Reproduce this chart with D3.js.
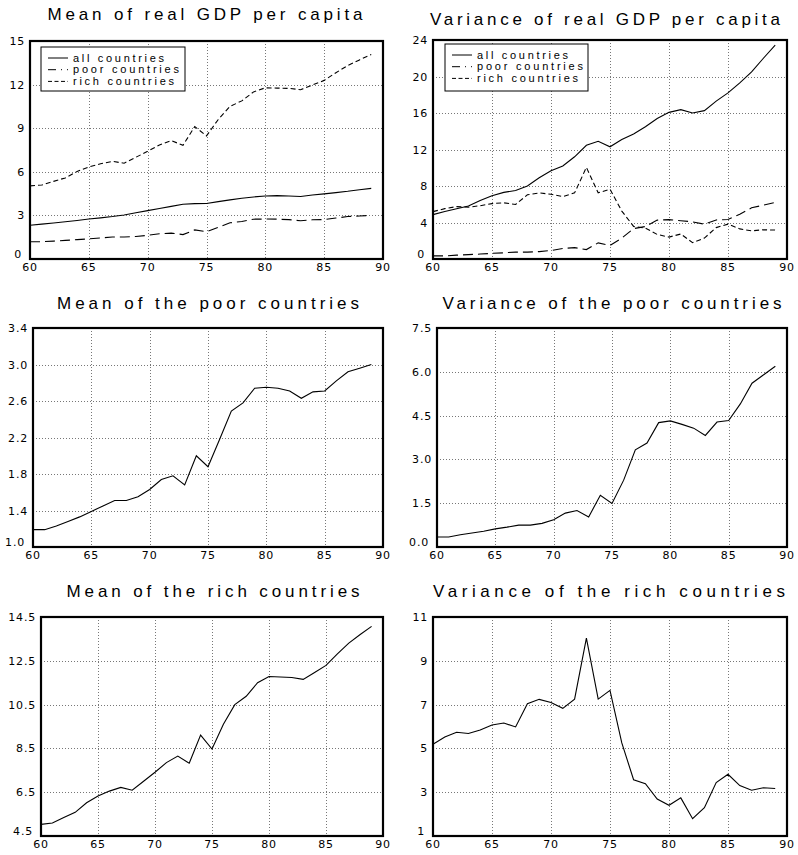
<!DOCTYPE html>
<html>
<head>
<meta charset="utf-8">
<script src="https://cdn.jsdelivr.net/npm/d3@7"></script>
<style>
  html, body { margin: 0; padding: 0; background: #fff; }
  svg { display: block; }
  .title { font-family: "Liberation Sans", Arial, sans-serif; font-size: 17px; fill: #000; }
  .tick-label { font-family: "DejaVu Sans", sans-serif; font-size: 11px; fill: #000; letter-spacing: 0.8px; }
  .legend-text { font-family: "Liberation Sans", Arial, sans-serif; font-size: 11px; fill: #000; }
</style>
</head>
<body>
<svg id="chart" width="798" height="855"></svg>
<script>
// Years 1960-1989, labelled by their last two digits
const years = d3.range(60, 90);

// Cross-country mean of real GDP per capita
const meanAll = [2.32, 2.40, 2.48, 2.56, 2.65, 2.75, 2.83, 2.92, 3.03, 3.18,
                 3.33, 3.47, 3.62, 3.77, 3.81, 3.82, 3.95, 4.07, 4.18, 4.27,
                 4.33, 4.36, 4.33, 4.30, 4.40, 4.48, 4.57, 4.66, 4.77, 4.86];
const meanPoor = [1.19, 1.19, 1.23, 1.28, 1.33, 1.39, 1.45, 1.51, 1.51, 1.55,
                  1.63, 1.74, 1.78, 1.68, 2.00, 1.88, 2.18, 2.49, 2.58, 2.74,
                  2.75, 2.74, 2.71, 2.63, 2.70, 2.71, 2.82, 2.92, 2.96, 3.00];
const meanRich = [5.03, 5.09, 5.34, 5.58, 6.02, 6.33, 6.55, 6.72, 6.59, 7.00,
                  7.41, 7.85, 8.15, 7.82, 9.11, 8.47, 9.60, 10.50, 10.88, 11.50,
                  11.78, 11.76, 11.74, 11.65, 11.97, 12.29, 12.82, 13.31, 13.70, 14.07];

// Cross-country variance of real GDP per capita
const varAll = [4.86, 5.20, 5.50, 5.80, 6.40, 6.94, 7.30, 7.50, 8.00, 8.90,
                9.68, 10.20, 11.20, 12.46, 12.90, 12.30, 13.10, 13.70, 14.50, 15.40,
                16.07, 16.37, 16.00, 16.26, 17.30, 18.20, 19.30, 20.50, 22.00, 23.45];
const varPoor = [0.34, 0.34, 0.42, 0.48, 0.54, 0.62, 0.68, 0.75, 0.75, 0.81,
                 0.93, 1.16, 1.25, 1.03, 1.77, 1.49, 2.29, 3.33, 3.56, 4.26,
                 4.32, 4.20, 4.07, 3.82, 4.28, 4.33, 4.90, 5.61, 5.90, 6.19];
const varRich = [5.19, 5.52, 5.74, 5.68, 5.84, 6.07, 6.16, 5.98, 7.04, 7.24,
                 7.10, 6.83, 7.25, 10.04, 7.25, 7.65, 5.25, 3.57, 3.39, 2.69,
                 2.40, 2.74, 1.79, 2.29, 3.44, 3.82, 3.30, 3.09, 3.20, 3.17];

// Axis tick values
const xTicks = [60, 65, 70, 75, 80, 85, 90];
const yTicksMeanAll = [0, 3, 6, 9, 12, 15];
const yTicksVarAll = [0, 4, 8, 12, 16, 20, 24];
const yTicksMeanPoor = [1.0, 1.4, 1.8, 2.2, 2.6, 3.0, 3.4];
const yTicksVarPoor = [0.0, 1.5, 3.0, 4.5, 6.0, 7.5];
const yTicksMeanRich = [4.5, 6.5, 8.5, 10.5, 12.5, 14.5];
const yTicksVarRich = [1, 3, 5, 7, 9, 11];

// Series labels and line styles
const seriesNames = ["all countries", "poor countries", "rich countries"];
const dashes = { all: null, poor: "10,5", rich: "5,3" };
const legendDashes = [null, "8,5,1,5", "4,2.5"];

const svg = d3.select("#chart");

// box = [left, top, right, bottom] of each plot frame
const panels = [
  { title: "Mean of real GDP per capita", box: [30, 41, 383, 259],
    titleX: 205, titleY: 20, titleW: 315,
    yTicks: yTicksMeanAll, fmt: d3.format("d"),
    series: [[meanAll, dashes.all], [meanPoor, dashes.poor], [meanRich, dashes.rich]],
    legend: [41, 47, 185, 91] },
  { title: "Variance of real GDP per capita", box: [433, 40, 787, 259],
    titleX: 605, titleY: 25, titleW: 350,
    yTicks: yTicksVarAll, fmt: d3.format("d"),
    series: [[varAll, dashes.all], [varPoor, dashes.poor], [varRich, dashes.rich]],
    legend: [445, 44, 588, 91] },
  { title: "Mean of the poor countries", box: [33, 328, 383, 547],
    titleX: 208, titleY: 309, titleW: 302,
    yTicks: yTicksMeanPoor, fmt: d3.format(".1f"),
    series: [[meanPoor, null]] },
  { title: "Variance of the poor countries", box: [437, 328, 787, 547],
    titleX: 612, titleY: 309, titleW: 339,
    yTicks: yTicksVarPoor, fmt: d3.format(".1f"),
    series: [[varPoor, null]] },
  { title: "Mean of the rich countries", box: [41, 617, 383, 836],
    titleX: 213, titleY: 597, titleW: 293,
    yTicks: yTicksMeanRich, fmt: d3.format(".1f"),
    series: [[meanRich, null]] },
  { title: "Variance of the rich countries", box: [433, 617, 787, 836],
    titleX: 609, titleY: 597, titleW: 352,
    yTicks: yTicksVarRich, fmt: d3.format("d"),
    series: [[varRich, null]] }
];

panels.forEach(p => {
  const [x0, y0, x1, y1] = p.box;
  const g = svg.append("g");
  const x = d3.scaleLinear().domain([60, 90]).range([x0, x1]);
  const y = d3.scaleLinear().domain(d3.extent(p.yTicks)).range([y1, y0]);
  const yMin = p.yTicks[0];

  // dotted grid at interior ticks
  g.append("g").selectAll("line")
    .data(xTicks.slice(1, -1)).join("line")
    .attr("x1", d => Math.round(x(d)) + 0.5).attr("x2", d => Math.round(x(d)) + 0.5)
    .attr("y1", y0).attr("y2", y1)
    .attr("stroke", "#777").attr("stroke-width", 1).attr("stroke-dasharray", "1,2");
  g.append("g").selectAll("line")
    .data(p.yTicks.slice(1, -1)).join("line")
    .attr("x1", x0).attr("x2", x1)
    .attr("y1", d => Math.round(y(d)) + 0.5).attr("y2", d => Math.round(y(d)) + 0.5)
    .attr("stroke", "#777").attr("stroke-width", 1).attr("stroke-dasharray", "1,2");

  // series lines
  const line = d3.line().x((d, k) => x(years[k])).y(d => y(d));
  p.series.forEach(([vals, dash]) => {
    g.append("path").datum(vals)
      .attr("d", line)
      .attr("fill", "none").attr("stroke", "#000").attr("stroke-width", 1.1)
      .attr("stroke-dasharray", dash);
  });

  // frame
  g.append("rect").attr("x", x0).attr("y", y0)
    .attr("width", x1 - x0).attr("height", y1 - y0)
    .attr("fill", "none").attr("stroke", "#000").attr("stroke-width", 2.2);

  // tick labels; the lowest y label sits just above-left of the first year label
  g.append("g").selectAll("text")
    .data(xTicks).join("text")
    .attr("class", "tick-label")
    .attr("x", d => x(d)).attr("y", y1 + 12)
    .attr("text-anchor", "middle")
    .text(d => d);
  g.append("g").selectAll("text")
    .data(p.yTicks).join("text")
    .attr("class", "tick-label")
    .attr("x", d => d === yMin ? x0 - 8 : x0 - 5)
    .attr("y", d => d === yMin ? y(d) - 1 : y(d) + 4)
    .attr("text-anchor", "end")
    .text(d => p.fmt(d));

  // title
  g.append("text").attr("class", "title")
    .attr("x", p.titleX)
    .attr("y", p.titleY)
    .attr("text-anchor", "middle")
    .attr("textLength", p.titleW).attr("lengthAdjust", "spacing")
    .text(p.title);

  // legend
  if (p.legend) {
    const [lx0, ly0, lx1, ly1] = p.legend;
    const lg = g.append("g");
    lg.append("rect").attr("x", lx0).attr("y", ly0)
      .attr("width", lx1 - lx0).attr("height", ly1 - ly0)
      .attr("fill", "#fff").attr("stroke", "#000").attr("stroke-width", 1);
    seriesNames.forEach((name, k) => {
      const ry = ly0 + 11 + k * 11.7;
      lg.append("line")
        .attr("x1", lx0 + 7).attr("x2", lx0 + 27)
        .attr("y1", ry).attr("y2", ry)
        .attr("stroke", "#000").attr("stroke-width", 1)
        .attr("stroke-dasharray", legendDashes[k]);
      lg.append("text").attr("class", "legend-text")
        .attr("x", lx0 + 32).attr("y", ry + 3.5)
        .attr("textLength", [91, 106, 101][k]).attr("lengthAdjust", "spacing")
        .text(name);
    });
  }
});
</script>
</body>
</html>
